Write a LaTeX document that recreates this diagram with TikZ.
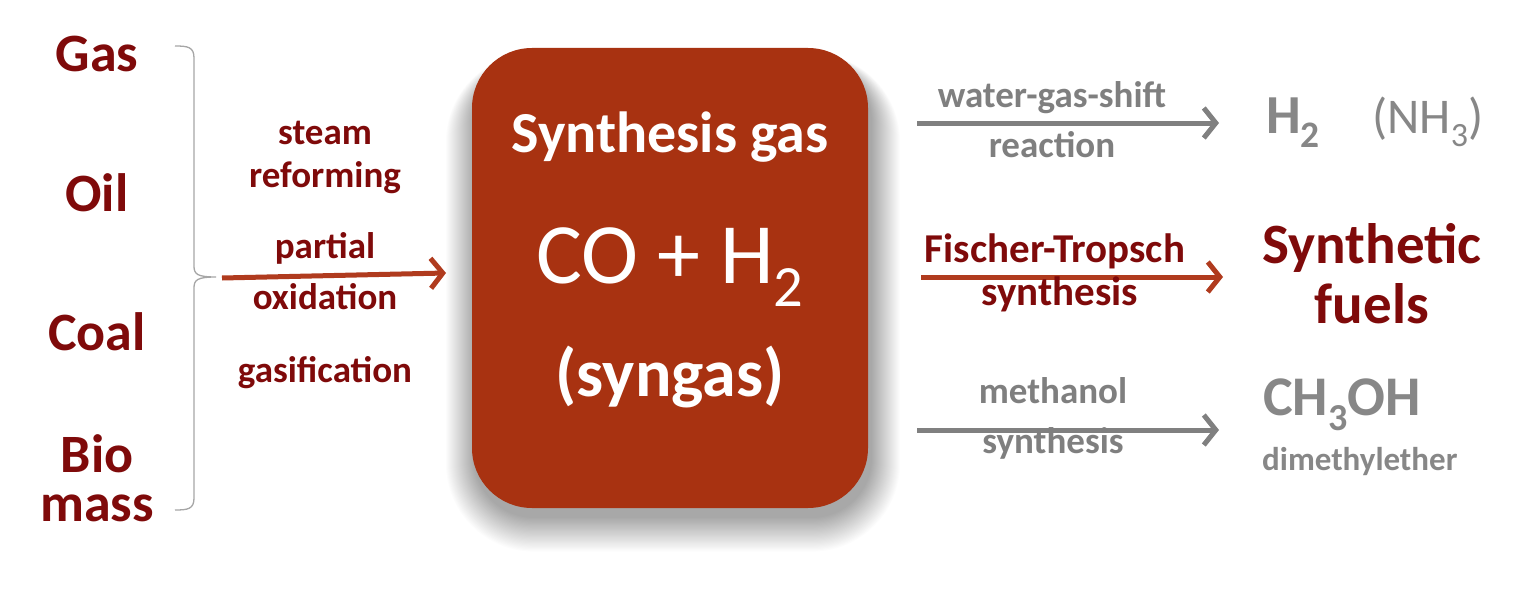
\documentclass[tikz,border=0pt]{standalone}
\usepackage{fontspec}
\setmainfont{Carlito}
\usetikzlibrary{arrows.meta}
\definecolor{dred}{HTML}{7F0A0A}
\definecolor{boxc}{HTML}{A83211}
\definecolor{rarr}{HTML}{B03B1E}
\definecolor{gtext}{HTML}{7F7F7F}
\definecolor{garr}{HTML}{808080}
\definecolor{gprod}{HTML}{878787}
\definecolor{bracec}{HTML}{A6A6A6}
\newcommand\fs[1]{\fontsize{#1}{#1}\selectfont}
\newcommand\mysub[1]{\raisebox{-0.27em}{\scalebox{0.68}{#1}}}
\begin{document}
\begin{tikzpicture}[x=1pt,y=-1pt,
  src/.style={font=\bfseries\fs{54}, text=dred, anchor=base, inner sep=0pt},
  proc/.style={font=\bfseries\fs{37}, text=dred, anchor=base, inner sep=0pt},
  glab/.style={font=\bfseries\fs{37}, text=gtext, anchor=base, inner sep=0pt},
  rlab/.style={font=\bfseries\fs{41}, text=dred, anchor=base, inner sep=0pt},
  wlab/.style={text=white, anchor=base, inner sep=0pt},
  prod/.style={text=gprod, anchor=base west, inner sep=0pt},
  synbox/.style={fill=boxc, rounded corners=60pt, minimum width=396pt, minimum height=460pt, inner sep=0pt},
  rarrow/.style={draw=rarr, line width=5pt, -{Straight Barb[length=12pt,width=30pt]}},
  garrow/.style={draw=garr, line width=5pt, -{Straight Barb[length=12pt,width=30pt]}},
  bracel/.style={draw=bracec, line width=1.3pt},
]
\fill[white] (0,0) rectangle (1521,594);
\useasboundingbox (0,0) rectangle (1521,594);

% sources
\node[src] (gas) at (97,72) {Gas};
\node[src] (oil) at (97,211) {Oil};
\node[src] (coal) at (97,350) {Coal};
\node[src, align=center, font=\bfseries\fontsize{54}{49}\selectfont] (bio) at (97,521) {Bio\\mass};

% brace
\draw[bracel] (175,46) .. controls (188,46) and (194,47) .. (194,58)
  -- (194,266) .. controls (194,274) and (197,277) .. (216,277)
  (216,277) .. controls (197,277) and (194,280) .. (194,288)
  -- (194,498) .. controls (194,509) and (188,510) .. (175,510);

% process labels
\node[proc] (steam) at (325,144) {steam};
\node[proc] (reform) at (325,187) {reforming};
\node[proc] (partial) at (325,258) {partial};
\node[proc] (oxid) at (325,309) {oxidation};
\node[proc] (gasif) at (325,382) {gasification};

\coordinate (la) at (222,278);
\coordinate (lb) at (446,273);
\draw[rarrow] (la) -- (lb);

% soft shadow of the central box
\foreach \e in {0,...,28}{
  \pgfmathsetmacro\rr{60+\e}
  \fill[black, opacity=0.011, rounded corners=\rr pt] (474-\e,62-0.3*\e) rectangle (872+\e,518+1.2*\e);
}
% central box
\node[synbox] (syn) at (670,278) {};
\node[wlab, font=\bfseries\fs{58}] (t1) at (670,152) {Synthesis gas};
\node[wlab, font=\fs{86}] (t2) at (670,283) {CO + H\mysub{2}};
\node[wlab, font=\bfseries\fs{68}] (t3) at (670,396) {(syngas)};

% top route
\coordinate (a1s) at (917,123);
\coordinate (a1e) at (1219,123);
\draw[garrow] (a1s) -- (a1e);
\node[glab] (wgs) at (1052,107) {water-gas-shift};
\node[glab] (reac) at (1052,157) {reaction};
\node[prod, font=\bfseries\fs{55}] (h2) at (1266,133) {H\mysub{2}};
\node[prod, font=\fs{50}] (nh3) at (1372,133) {(NH\mysub{3})};

% middle route
\coordinate (a2s) at (921,277);
\coordinate (a2e) at (1223,277);
\draw[rarrow] (a2s) -- (a2e);
\node[rlab] (ft) at (1055,262) {Fischer-Tropsch};
\node[rlab] (fts) at (1060,305) {synthesis};
\node[src, font=\bfseries\fs{57}] (sf) at (1372,263) {Synthetic};
\node[src, font=\bfseries\fs{57}] (fu) at (1372,323) {fuels};

% bottom route
\coordinate (a3s) at (917,430);
\coordinate (a3e) at (1219,430);
\draw[garrow] (a3s) -- (a3e);
\node[glab] (meth) at (1053,403) {methanol};
\node[glab] (msyn) at (1053,453) {synthesis};
\node[prod, font=\bfseries\fs{56}] (ch3oh) at (1263,415) {CH\mysub{3}OH};
\node[prod, font=\bfseries\fs{33}] (dme) at (1262,470) {dimethylether};
\end{tikzpicture}
\end{document}
